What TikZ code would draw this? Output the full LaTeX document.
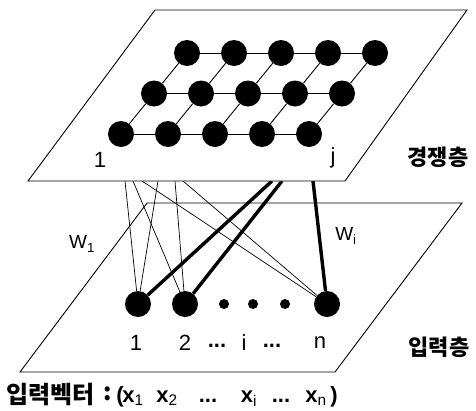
\documentclass[tikz,border=0pt]{standalone}
\usepackage{fontspec}
\setmainfont{Liberation Sans}
\newfontfamily\kr{Noto Sans CJK KR}
\begin{document}
\begin{tikzpicture}[x=1pt,y=-1pt,
  plane/.style={draw=black,line width=0.9pt,fill=white,line join=miter},
  gnode/.style={circle,fill=black,minimum size=26pt,inner sep=0pt},
  inode/.style={circle,fill=black,minimum size=26pt,inner sep=0pt},
  dotnode/.style={circle,fill=black,minimum size=10pt,inner sep=0pt},
  gridline/.style={line width=0.9pt},
  wthin/.style={line width=0.7pt},
  wthick/.style={line width=3.4pt},
  lbl/.style={font=\fontsize{22}{24}\selectfont,inner sep=0pt},
  dots/.style={font=\bfseries\fontsize{22}{24}\selectfont,inner sep=0pt},
  wlbl/.style={font=\fontsize{19}{21}\selectfont,inner sep=0pt},
  krlbl/.style={font=\kr\bfseries\fontsize{22}{24}\selectfont,inner sep=0pt},
  veclbl/.style={font=\kr\bfseries\fontsize{24}{26}\selectfont,inner sep=0pt},
  xlbl/.style={font=\bfseries\fontsize{22}{24}\selectfont,inner sep=0pt,anchor=base}
]
\useasboundingbox (0,0) rectangle (476,410);
% bottom (input) plane
\draw[plane] (147,203) -- (462,203) -- (335,372) -- (20,372) -- cycle;
% input nodes
\node[inode] (in1) at (138,304) {};
\node[inode] (in2) at (185,304) {};
\node[dotnode] (d1) at (224,304) {};
\node[dotnode] (d2) at (253,304) {};
\node[dotnode] (d3) at (285,304) {};
\node[inode] (inn) at (327,304) {};
% connector start points at the edge of the top plane
\coordinate (t1) at (125,181);
\coordinate (t2) at (133,181);
\coordinate (t3) at (142,181);
\coordinate (t4) at (158,181);
\coordinate (t5) at (175,181);
\coordinate (t6) at (183,181);
\coordinate (T1) at (272,181);
\coordinate (T2) at (282,181);
\coordinate (T3) at (313,181);
\draw[wthin] (t1) -- (in1);
\draw[wthin] (t4) -- (in1);
\draw[wthin] (t2) -- (in2);
\draw[wthin] (t5) -- (in2);
\draw[wthin] (t3) -- (inn);
\draw[wthin] (t6) -- (inn);
\draw[wthick] (T1) -- (in1);
\draw[wthick] (T2) -- (in2);
\draw[wthick] (T3) -- (inn);
% top (competitive) plane
\draw[plane] (155,10) -- (467,10) -- (345,181) -- (28,181) -- cycle;
% grid nodes
\foreach \r in {0,1,2}
  \foreach \c in {0,...,4}
    \node[gnode] (g\r\c) at ({121+33*\r+47*\c},{134-40.5*\r}) {};
\foreach \r in {0,1,2}
  \foreach \c [count=\cn] in {0,...,3}
    \draw[gridline] (g\r\c) -- (g\r\cn);
\foreach \r [count=\rn] in {0,1}
  \foreach \c in {0,...,4}
    \draw[gridline] (g\r\c) -- (g\rn\c);
% labels
\node[lbl] (l1) at (100,160) {1};
\node[lbl] (lj) at (333,158) {j};
\node[krlbl] (comp) at (438,157) {경쟁층};
\node[krlbl] (inl) at (439,347) {입력층};
\node[wlbl] (w1) at (82,244) {W\textsubscript{1}};
\node[wlbl] (wi) at (346,236) {W\textsubscript{i}};
\node[lbl] (n1) at (136,343) {1};
\node[lbl] (n2) at (185,343) {2};
\node[dots] (e1) at (217,346) {...};
\node[lbl] (ni) at (244,343) {i};
\node[dots] (e2) at (272,346) {...};
\node[lbl] (nn) at (320,343) {n};
% input vector
\node[veclbl,anchor=west] (vech) at (6,395) {입력벡터};
\node[veclbl] (vecc) at (108,394) {:};
\node[xlbl] (vp1) at (120,402) {(};
\node[xlbl] (vx1) at (133,402) {x\textsubscript{\mdseries 1}};
\node[xlbl] (vx2) at (167,402) {x\textsubscript{\mdseries 2}};
\node[xlbl] (ve1) at (208,402) {...};
\node[xlbl] (vxi) at (249,402) {x\textsubscript{\mdseries i}};
\node[xlbl] (ve2) at (281,402) {...};
\node[xlbl] (vxn) at (316,402) {x\textsubscript{\mdseries n}};
\node[xlbl] (vp2) at (334,402) {)};
\end{tikzpicture}
\end{document}
